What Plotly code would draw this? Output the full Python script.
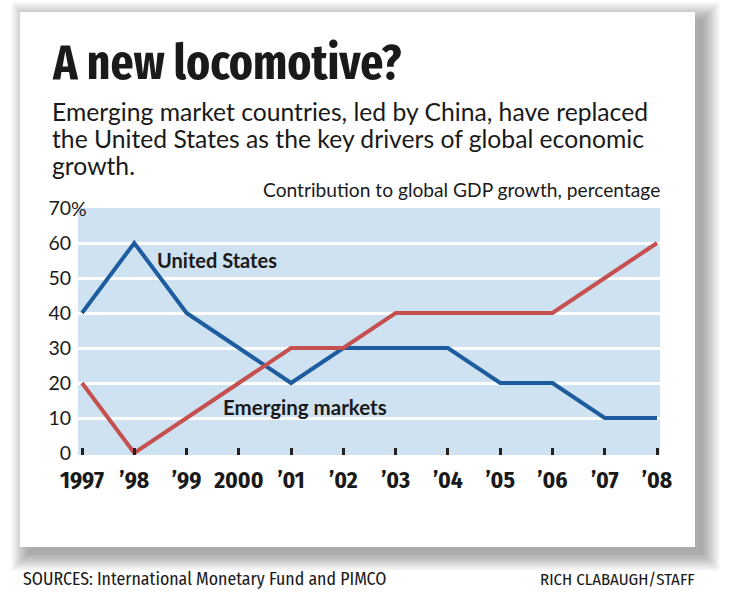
import plotly.graph_objects as go

years = [1997, 1998, 1999, 2000, 2001, 2002, 2003, 2004, 2005, 2006, 2007, 2008]
year_labels = ["1997", "’98", "’99", "2000", "’01", "’02", "’03", "’04", "’05", "’06", "’07", "’08"]
united_states = [40, 60, 40, 30, 20, 30, 30, 30, 20, 20, 10, 10]
emerging_markets = [20, 0, 10, 20, 30, 30, 40, 40, 40, 40, 50, 60]
y_ticks = [0, 10, 20, 30, 40, 50, 60, 70]
y_labels = ["0", "10", "20", "30", "40", "50", "60", "70"]
grid_vals = [10, 20, 30, 40, 50, 60]

W, H = 733, 600
L, R, T, B = 78, 660, 208, 455
PW, PH = R - L, B - T

def px(x):
    return (x - L) / PW

def py(y):
    return (B - y) / PH

BLUE = "#1d5c9e"
RED = "#c4514f"
BG = "#cfe2f1"
INK = "#1a1a1a"
COND = "Fira Sans Condensed, DejaVu Sans Condensed, Liberation Sans, sans-serif"
XCOND = "Fira Sans Extra Condensed, Fira Sans Condensed, DejaVu Sans Condensed, sans-serif"
SANS = "Lato, Open Sans, sans-serif"

fig = go.Figure()
fig.add_trace(go.Scatter(x=years, y=united_states, mode="lines",
                         line=dict(color=BLUE, width=4), hoverinfo="skip"))
fig.add_trace(go.Scatter(x=years, y=emerging_markets, mode="lines",
                         line=dict(color=RED, width=4), hoverinfo="skip"))

shapes = []
# soft card shadow
N = 18
for k in range(N):
    shapes.append(dict(type="rect", xref="paper", yref="paper",
                       x0=px(20 + 8 - k), x1=px(695 + 8 + k),
                       y0=py(547 + 7 + k), y1=py(12 + 7 - k),
                       fillcolor="rgba(0,0,0,0.02)", line=dict(width=0), layer="below"))
# card
shapes.append(dict(type="rect", xref="paper", yref="paper",
                   x0=px(20), x1=px(695), y0=py(547), y1=py(12),
                   fillcolor="white", line=dict(width=0), layer="below"))
# plot background
shapes.append(dict(type="rect", xref="paper", yref="paper",
                   x0=0, x1=1, y0=0, y1=1,
                   fillcolor=BG, line=dict(width=0), layer="below"))

annotations = []

def text(x, y, s, size, family=SANS, xanchor="left", color=INK):
    annotations.append(dict(x=x, y=y, xref="paper", yref="paper", text=s,
                            showarrow=False, xanchor=xanchor, yanchor="middle",
                            font=dict(family=family, size=size, color=color)))

def center_lato(baseline, size):
    return baseline - 0.387 * size

def center_fira(baseline, size):
    return baseline - 0.36 * size

text(px(50), py(center_fira(80, 49)), "<b>A new locomotive?</b>", 49, XCOND)
sub = ["Emerging market countries, led by China, have replaced",
       "the United States as the key drivers of global economic",
       "growth."]
for i, line in enumerate(sub):
    text(px(50), py(center_lato(121 + 27 * i, 24.7)), line, 24.7, SANS)
text(px(662), py(center_lato(197, 19.2)), "Contribution to global GDP growth, percentage", 19.2, SANS, xanchor="right")
text(px(155), py(center_lato(268, 20)), "<b>United States</b>", 20, SANS)
text(px(221), py(center_lato(415, 20.5)), "<b>Emerging markets</b>", 20.5, SANS)
text(px(21), py(center_fira(585, 17.8)), "SOURCES: International Monetary Fund and PIMCO", 17.8, COND)
text(px(697), py(center_fira(585, 16.8)), "RICH CLABAUGH/STAFF", 16.8, COND, xanchor="right")
# percent sign after the top tick label
annotations.append(dict(x=px(69), y=70, xref="paper", yref="y", text="%", showarrow=False,
                        xanchor="left", yanchor="middle",
                        font=dict(family=SANS, size=19.5, color=INK)))

x0 = 1997 - 4 / 52.27
x1 = 2008 + 3 / 52.27
y0 = -2 / 3.5

fig.update_layout(
    width=W, height=H,
    margin=dict(l=L, r=W - R, t=T, b=H - B, pad=0),
    paper_bgcolor="white",
    plot_bgcolor="rgba(0,0,0,0)",
    showlegend=False,
    shapes=shapes,
    annotations=annotations,
    xaxis=dict(range=[x0, x1], tickmode="array", tickvals=years, ticktext=year_labels,
               ticks="inside", ticklen=7, tickwidth=3, tickcolor="#222",
               showgrid=False, zeroline=False, showline=False,
               tickfont=dict(family=COND, size=23.5, color=INK, weight="bold"),
               ticklabelstandoff=8, fixedrange=True),
    yaxis=dict(range=[y0, 70], tickmode="array", tickvals=y_ticks, ticktext=y_labels,
               ticks="", showgrid=False, zeroline=False, showline=False,
               tickfont=dict(family=SANS, size=19.5, color=INK),
               ticklabelstandoff=6,
               minor=dict(tickmode="array", tickvals=grid_vals, showgrid=True,
                          gridcolor="white", gridwidth=3, ticks=""),
               fixedrange=True),
)

fig.write_html("out.html")
